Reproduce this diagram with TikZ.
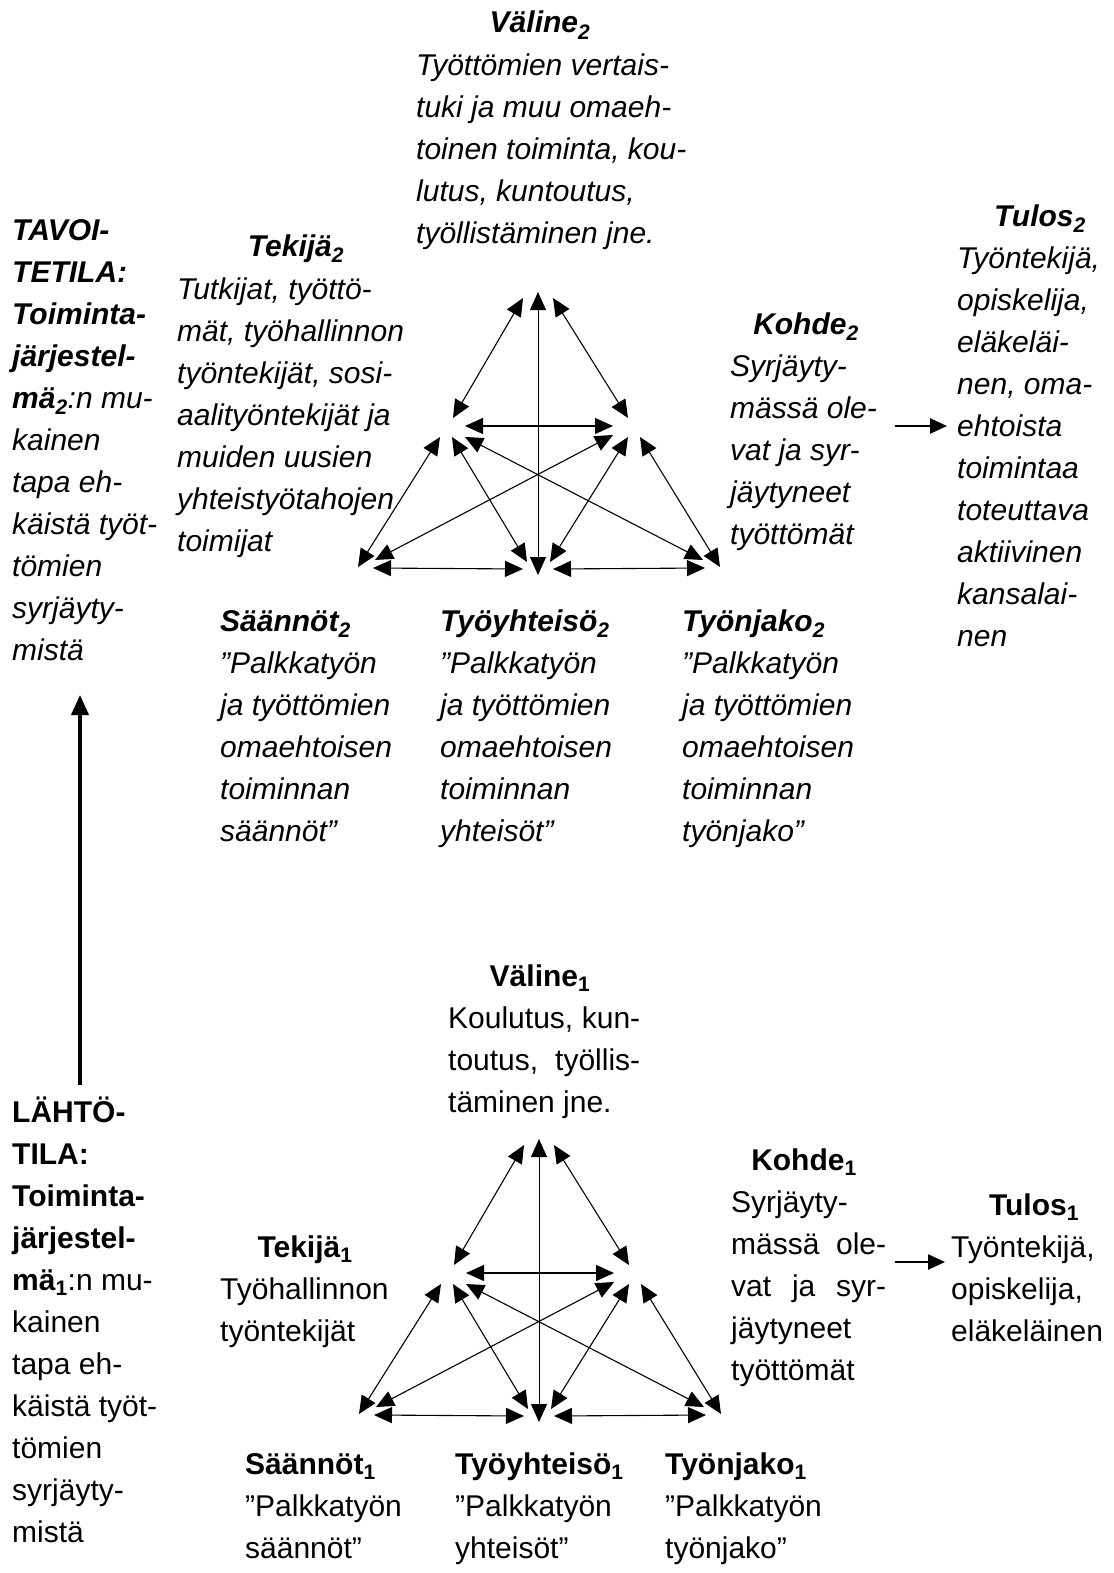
\documentclass[tikz,border=0pt]{standalone}
\usepackage{fontspec}
\setmainfont{Liberation Sans}
\usetikzlibrary{arrows.meta}
\newcommand{\acttri}[3]{%
  \begin{scope}[shift={(#2,#3)}]
    \coordinate (#1A) at (538,292);
    \coordinate (#1S) at (452,428);
    \coordinate (#1O) at (627,428);
    \coordinate (#1R) at (365,566);
    \coordinate (#1C) at (538,567);
    \coordinate (#1D) at (712,566);
  \end{scope}
  \draw[tri] ([shift={(-15,6)}]#1A) -- ([shift={(1,-10)}]#1S);
  \draw[tri] ([shift={(15,6)}]#1A) -- ([shift={(1,-10)}]#1O);
  \draw[tri,line width=0.8pt] (#1A) -- ([shift={(0,8)}]#1C);
  \draw[tri] ([shift={(13,-2)}]#1S) -- ([shift={(-14,-2)}]#1O);
  \draw[tri] ([shift={(-12,9)}]#1S) -- ([shift={(-7,1)}]#1R);
  \draw[tri] ([shift={(0,9)}]#1S) -- ([shift={(-11,-5)}]#1C);
  \draw[tri] ([shift={(13,9)}]#1S) -- ([shift={(-9,-6)}]#1D);
  \draw[tri] ([shift={(-14,7)}]#1O) -- ([shift={(10,-6)}]#1R);
  \draw[tri] ([shift={(1,9)}]#1O) -- ([shift={(12,-5)}]#1C);
  \draw[tri] ([shift={(13,9)}]#1O) -- ([shift={(8,1)}]#1D);
  \draw[tri] ([shift={(8,2)}]#1R) -- ([shift={(-15,2)}]#1C);
  \draw[tri] ([shift={(15,2)}]#1C) -- ([shift={(-7,2)}]#1D);
}
\begin{document}
\begin{tikzpicture}[x=1pt,y=-1pt,
  txt/.style={inner sep=0pt, anchor=base west, align=left, font=\fontsize{30}{42}\selectfont},
  txti/.style={txt, font=\fontsize{30}{42}\selectfont\itshape},
  hd/.style={inner sep=0pt, anchor=base, font=\fontsize{30}{42}\selectfont\bfseries},
  hdi/.style={hd, font=\fontsize{30}{42}\selectfont\bfseries\itshape},
  tri/.style={line width=1.1pt, >={Triangle[length=18pt,width=16pt]}, <->},
  bigarr/.style={line width=2.5pt, -{Triangle[length=17pt,width=15pt]}},
  vert/.style={line width=3.8pt, -{Triangle[length=20pt,width=17pt]}}]
\useasboundingbox[fill=white] (0,0) rectangle (1113,1573);

% (multi-line nodes are placed by the baseline of their LAST line)
% ---------- upper system ----------
\node[hdi] (v2h) at (540,33) {Väline\textsubscript{2}};
\node[txti] (v2) at (416,243) {Työttömien vertais-\\tuki ja muu omaeh-\\toinen toiminta, kou-\\lutus, kuntoutus,\\työllistäminen jne.};
\node[txti] (tav) at (12,660) {\textbf{TAVOI-}\\\textbf{TETILA:}\\\textbf{Toiminta-}\\\textbf{järjestel-}\\\textbf{mä\textsubscript{2}}:n mu-\\kainen\\tapa eh-\\käistä työt-\\tömien\\syrjäyty-\\mistä};
\node[hdi] (t2h) at (296,256) {Tekijä\textsubscript{2}};
\node[txti] (t2) at (177,551) {Tutkijat, työttö-\\mät, työhallinnon\\työntekijät, sosi-\\aalityöntekijät ja\\muiden uusien\\yhteistyötahojen\\toimijat};
\node[hdi] (tu2h) at (1040,226) {Tulos\textsubscript{2}};
\node[txti] (tu2) at (957,646) {Työntekijä,\\opiskelija,\\eläkeläi-\\nen, oma-\\ehtoista\\toimintaa\\toteuttava\\aktiivinen\\kansalai-\\nen};
\node[hdi] (k2h) at (806,334) {Kohde\textsubscript{2}};
\node[txti] (k2) at (730,544) {Syrjäyty-\\mässä ole-\\vat ja syr-\\jäytyneet\\työttömät};
\node[txti] (s2) at (220,841) {\textbf{Säännöt\textsubscript{2}}\\”Palkkatyön\\ja työttömien\\omaehtoisen\\toiminnan\\säännöt”};
\node[txti] (y2) at (440,841) {\textbf{Työyhteisö\textsubscript{2}}\\”Palkkatyön\\ja työttömien\\omaehtoisen\\toiminnan\\yhteisöt”};
\node[txti] (j2) at (682,841) {\textbf{Työnjako\textsubscript{2}}\\”Palkkatyön\\ja työttömien\\omaehtoisen\\toiminnan\\työnjako”};
\acttri{u}{0}{0}
\coordinate (k2out) at (895,426);
\coordinate (tu2in) at (947,426);
\draw[bigarr] (k2out) -- (tu2in);

% ---------- transition arrow ----------
\coordinate (upS) at (80,1085);
\coordinate (upE) at (80,695);
\draw[vert] (upS) -- (upE);

% ---------- lower system ----------
\node[hd] (v1h) at (540,986) {Väline\textsubscript{1}};
\node[txt] (v1) at (448,1112) {\makebox[192pt][s]{Koulutus, kun-}\\\makebox[192pt][s]{toutus, työllis-}\\täminen jne.};
\node[txt] (lah) at (12,1542) {\textbf{LÄHTÖ-}\\\textbf{TILA:}\\\textbf{Toiminta-}\\\textbf{järjestel-}\\\textbf{mä\textsubscript{1}}:n mu-\\kainen\\tapa eh-\\käistä työt-\\tömien\\syrjäyty-\\mistä};
\node[hd] (k1h) at (804,1170) {Kohde\textsubscript{1}};
\node[txt] (k1) at (731,1380) {Syrjäyty-\\\makebox[155pt][s]{mässä ole-}\\\makebox[155pt][s]{vat ja syr-}\\jäytyneet\\työttömät};
\node[hd] (tu1h) at (1034,1215) {Tulos\textsubscript{1}};
\node[txt] (tu1) at (951,1341) {Työntekijä,\\opiskelija,\\eläkeläinen};
\node[hd] (t1h) at (305,1257) {Tekijä\textsubscript{1}};
\node[txt] (t1) at (220,1341) {Työhallinnon\\työntekijät};
\node[txt] (s1) at (245,1558) {\textbf{Säännöt\textsubscript{1}}\\”Palkkatyön\\säännöt”};
\node[txt] (y1) at (455,1558) {\textbf{Työyhteisö\textsubscript{1}}\\”Palkkatyön\\yhteisöt”};
\node[txt] (j1) at (665,1558) {\textbf{Työnjako\textsubscript{1}}\\”Palkkatyön\\työnjako”};
\acttri{l}{1}{847}
\coordinate (k1out) at (895,1262);
\coordinate (tu1in) at (945,1262);
\draw[bigarr] (k1out) -- (tu1in);
\end{tikzpicture}
\end{document}
